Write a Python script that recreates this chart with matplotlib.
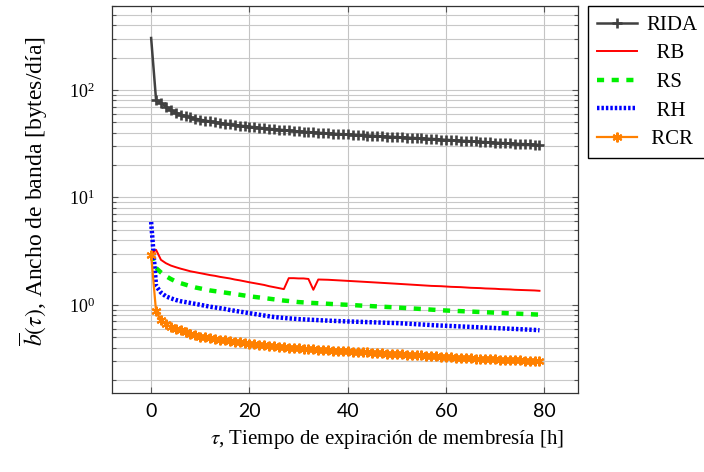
import numpy as np
import matplotlib
matplotlib.use("Agg")
import matplotlib.pyplot as plt
from matplotlib.ticker import FixedLocator, LogLocator, LogFormatterMathtext, NullFormatter

# Membership expiration time (hours)
tau = list(range(80))

# Average bandwidth per protocol [bytes/day]
rida = [304, 81, 75.5, 70, 65, 61.5, 59, 57, 55.5, 54, 52.8, 51.8, 50.9, 50, 49.2, 48.5,
        47.8, 47.2, 46.6, 46, 45.5, 45, 44.5, 44, 43.5, 43.1, 42.7, 42.3, 41.9, 41.5,
        41.1, 40.8, 40.5, 40.2, 39.9, 39.7, 39.4, 39.2, 38.9, 38.7, 38.5, 38.3, 38.1,
        37.9, 37.6, 37.4, 37.2, 37.0, 36.8, 36.6, 36.4, 36.2, 36.0, 35.8, 35.6, 35.4,
        35.2, 35.0, 34.8, 34.5, 34.3, 34.1, 33.9, 33.7, 33.5, 33.3, 33.1, 32.9, 32.7,
        32.5, 32.3, 32.1, 31.9, 31.8, 31.6, 31.4, 31.3, 31.1, 30.9, 30.8]
rb = [3.0, 3.25, 2.62, 2.44, 2.32, 2.24, 2.17, 2.11, 2.05, 2.01, 1.97, 1.93, 1.89, 1.86,
      1.82, 1.79, 1.76, 1.72, 1.69, 1.655, 1.62, 1.59, 1.56, 1.53, 1.49, 1.46, 1.43,
      1.40, 1.77, 1.77, 1.76, 1.76, 1.74, 1.38, 1.72, 1.715, 1.71, 1.70, 1.69, 1.68,
      1.67, 1.66, 1.65, 1.64, 1.63, 1.62, 1.61, 1.60, 1.59, 1.58, 1.57, 1.56, 1.55,
      1.54, 1.53, 1.52, 1.51, 1.50, 1.495, 1.49, 1.48, 1.47, 1.465, 1.46, 1.45, 1.44,
      1.435, 1.43, 1.42, 1.415, 1.41, 1.40, 1.395, 1.39, 1.38, 1.375, 1.37, 1.365,
      1.36, 1.35]
rs = [2.95, 2.2, 2.0, 1.85, 1.74, 1.65, 1.59, 1.54, 1.49, 1.45, 1.42, 1.39, 1.36, 1.34,
      1.32, 1.30, 1.28, 1.26, 1.24, 1.22, 1.20, 1.185, 1.17, 1.155, 1.14, 1.125, 1.11,
      1.095, 1.085, 1.072, 1.06, 1.053, 1.046, 1.04, 1.034, 1.028, 1.022, 1.016, 1.01,
      1.005, 1.0, 0.994, 0.988, 0.982, 0.977, 0.971, 0.966, 0.96, 0.955, 0.95, 0.944,
      0.938, 0.932, 0.926, 0.92, 0.914, 0.908, 0.902, 0.896, 0.89, 0.885, 0.881, 0.877,
      0.873, 0.869, 0.865, 0.861, 0.857, 0.853, 0.849, 0.845, 0.841, 0.837, 0.833,
      0.829, 0.825, 0.821, 0.818, 0.814, 0.81]
rh = [5.9, 1.5, 1.3, 1.2, 1.15, 1.11, 1.08, 1.06, 1.04, 1.02, 1.0, 0.98, 0.96, 0.945,
      0.93, 0.915, 0.895, 0.88, 0.865, 0.85, 0.836, 0.822, 0.808, 0.795, 0.782, 0.77,
      0.762, 0.755, 0.748, 0.742, 0.736, 0.732, 0.728, 0.724, 0.72, 0.716, 0.712, 0.709,
      0.706, 0.703, 0.70, 0.698, 0.695, 0.693, 0.69, 0.688, 0.685, 0.683, 0.68, 0.678,
      0.676, 0.672, 0.668, 0.664, 0.66, 0.656, 0.652, 0.648, 0.644, 0.641, 0.638, 0.635,
      0.632, 0.629, 0.626, 0.623, 0.62, 0.617, 0.614, 0.611, 0.608, 0.605, 0.602, 0.599,
      0.596, 0.593, 0.59, 0.587, 0.584, 0.58]
rcr = [2.92, 0.87, 0.72, 0.66, 0.625, 0.60, 0.58, 0.56, 0.54, 0.523, 0.507, 0.498, 0.49,
       0.482, 0.474, 0.467, 0.46, 0.452, 0.446, 0.44, 0.434, 0.429, 0.424, 0.419, 0.414,
       0.41, 0.406, 0.402, 0.399, 0.397, 0.395, 0.392, 0.389, 0.386, 0.383, 0.38, 0.377,
       0.375, 0.372, 0.37, 0.368, 0.366, 0.364, 0.362, 0.36, 0.358, 0.356, 0.354, 0.352,
       0.35, 0.348, 0.346, 0.344, 0.342, 0.34, 0.338, 0.336, 0.334, 0.332, 0.329, 0.326,
       0.324, 0.322, 0.32, 0.319, 0.317, 0.316, 0.314, 0.313, 0.311, 0.31, 0.309, 0.307,
       0.306, 0.305, 0.304, 0.303, 0.302, 0.301, 0.30]

series_labels = ["RIDA", "RB", "RS", "RH", "RCR"]
x_ticks = [0, 20, 40, 60, 80]

plt.rcParams['mathtext.fontset'] = 'stix'
plt.rcParams['font.family'] = ['Liberation Serif', 'DejaVu Serif']

W, H = 704, 472
fig = plt.figure(figsize=(W / 100, H / 100), dpi=100)
ax = fig.add_axes([112.3 / W, 1 - 393.3 / H, 466 / W, 387.6 / H])

ax.plot(tau, rida, color='#404040', lw=1.8, marker='+', ms=7, mew=1.9,
        markevery=slice(1, None), label=series_labels[0])
ax.plot(tau, rb, color='#ff0000', lw=1.4, label=series_labels[1])
ax.plot(tau, rs, color='#00f000', lw=3.2, dashes=(1.6, 1.7), label=series_labels[2])
ax.plot(tau, rh, color='#0000ff', lw=3.2, dashes=(0.55, 0.45), label=series_labels[3])
ax.plot(tau, rcr, color='#ff8000', lw=1.6, marker=(6, 2, 0), ms=7, mew=1.5,
        label=series_labels[4])

# Axis limits enlarged by 10% of the data range
ax.set_yscale('log')
xmin, xmax = min(tau), max(tau)
dx = 0.1 * (xmax - xmin)
ax.set_xlim(xmin - dx, xmax + dx)
all_y = np.log10(np.concatenate([rida, rb, rs, rh, rcr]))
lo, hi = all_y.min(), all_y.max()
dy = 0.1 * (hi - lo)
ax.set_ylim(10 ** (lo - dy), 10 ** (hi + dy))

ax.xaxis.set_major_locator(FixedLocator(x_ticks))
ax.yaxis.set_major_locator(LogLocator(base=10, numticks=10))
ax.yaxis.set_major_formatter(LogFormatterMathtext())
ax.yaxis.set_minor_locator(LogLocator(base=10, subs=np.arange(2, 10), numticks=20))
ax.yaxis.set_minor_formatter(NullFormatter())

ax.grid(True, which='major', axis='x', color='#c4c4c4', lw=0.8)
ax.grid(True, which='both', axis='y', color='#c8c8c8', lw=0.8)
ax.set_axisbelow(True)

ax.tick_params(axis='x', which='major', direction='in', top=True, bottom=True,
               length=4.2, width=0.8, color='#555555', labelsize=14, pad=7,
               labelfontfamily='Lato')
ax.tick_params(axis='y', which='both', direction='in', left=True, right=True,
               width=0.8, color='#555555', labelsize=13, pad=12.5)
ax.tick_params(axis='y', which='major', length=4.2)
ax.tick_params(axis='y', which='minor', length=2.8)
for s in ax.spines.values():
    s.set_color('#333333')
    s.set_linewidth(0.9)

ax.set_xlabel(r'$\tau$, Tiempo de expiración de membresía [h]', fontsize=15)
ax.set_ylabel(r'$\overline{b}(\tau)$, Ancho de banda [bytes/día]', fontsize=17)
ax.xaxis.set_label_coords(0.59, -0.09)
ax.yaxis.set_label_coords(-0.134, 0.522)

handles, labels = ax.get_legend_handles_labels()
pad_labels = ["RIDA", "  RB", "  RS", "  RH", " RCR"]
leg = fig.legend(handles, pad_labels, loc='upper left',
                 bbox_to_anchor=(588 / W, 1 - 6 / H), borderaxespad=0,
                 frameon=True, fancybox=False, edgecolor='black', framealpha=1,
                 handlelength=1.9, handletextpad=0.45, labelspacing=0.43,
                 borderpad=0.45, prop={'family': 'Liberation Serif', 'size': 15})
leg.get_frame().set_linewidth(1.0)

fig.savefig('out.png', dpi=100)
